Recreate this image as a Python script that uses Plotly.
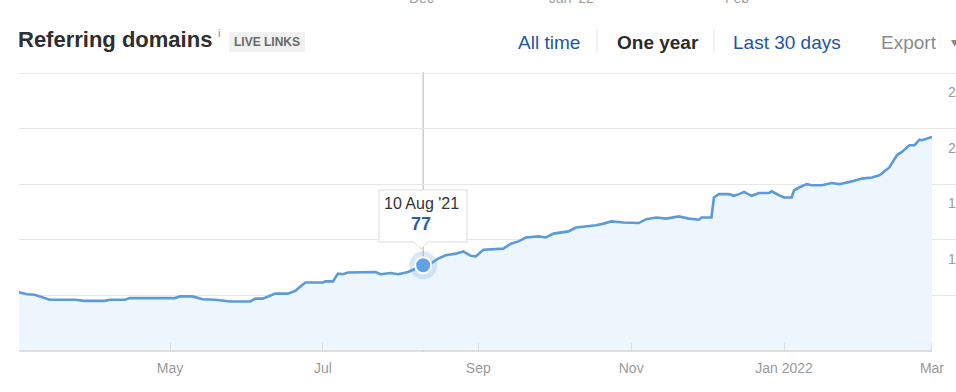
import plotly.graph_objects as go

# ---------------- data ----------------
dates = [
    "2021-03-01", "2021-03-05", "2021-03-08", "2021-03-10", "2021-03-13", "2021-03-14",
    "2021-03-24", "2021-03-28", "2021-04-05", "2021-04-07", "2021-04-13", "2021-04-15",
    "2021-05-03", "2021-05-05", "2021-05-10", "2021-05-14", "2021-05-19", "2021-05-25",
    "2021-06-02", "2021-06-04", "2021-06-07", "2021-06-09", "2021-06-12", "2021-06-17",
    "2021-06-20", "2021-06-24", "2021-07-01", "2021-07-02", "2021-07-05", "2021-07-07",
    "2021-07-09", "2021-07-11", "2021-07-21", "2021-07-22", "2021-07-24", "2021-07-28",
    "2021-07-31", "2021-08-04", "2021-08-06", "2021-08-10", "2021-08-13", "2021-08-16",
    "2021-08-19", "2021-08-23", "2021-08-26", "2021-08-29", "2021-08-31", "2021-09-03",
    "2021-09-11", "2021-09-14", "2021-09-17", "2021-09-20", "2021-09-25", "2021-09-28",
    "2021-10-01", "2021-10-04", "2021-10-07", "2021-10-10", "2021-10-15", "2021-10-18",
    "2021-10-21", "2021-10-24", "2021-10-29", "2021-11-04", "2021-11-07", "2021-11-11",
    "2021-11-15", "2021-11-20", "2021-11-24", "2021-11-28", "2021-11-29", "2021-12-03",
    "2021-12-04", "2021-12-06", "2021-12-10", "2021-12-12", "2021-12-14", "2021-12-16",
    "2021-12-19", "2021-12-22", "2021-12-26", "2021-12-27", "2021-12-30", "2022-01-01",
    "2022-01-04", "2022-01-05", "2022-01-07", "2022-01-10", "2022-01-12", "2022-01-16",
    "2022-01-20", "2022-01-23", "2022-01-28", "2022-02-01", "2022-02-05", "2022-02-08",
    "2022-02-12", "2022-02-15", "2022-02-17", "2022-02-20", "2022-02-22", "2022-02-24",
    "2022-02-25", "2022-02-28", "2022-03-01",
]
domains = [
    53, 51, 50.5, 49, 46.5, 46,
    46, 45, 45, 46, 46, 47.5,
    47.5, 49, 49, 46.5, 46, 44.5,
    44.5, 47, 47, 49, 51.5, 51.5,
    54, 61.5, 61.5, 62.5, 62.5, 69.5,
    69, 70.5, 70.5, 71, 69, 70,
    69, 71, 73, 77, 78.5, 83,
    86, 87.5, 89.5, 85.5, 85, 91,
    92, 96.5, 98.5, 102, 103, 102,
    105.5, 106.5, 107.5, 111, 112, 113,
    114.5, 116.5, 115.5, 115, 118.5, 120,
    119, 121, 119, 118, 120, 120,
    138, 141, 141, 139.5, 141, 143,
    139.5, 142, 142, 143.5, 140, 138,
    138, 144.5, 147, 150, 149, 149,
    151, 150, 152.5, 155, 156, 158,
    165, 176, 179, 185, 185, 190,
    189.5, 192, 192.5,
]

x_tick_vals = ["2021-05-01", "2021-07-01", "2021-09-01", "2021-11-01", "2022-01-01", "2022-03-01"]
x_tick_text = ["May", "Jul", "Sep", "Nov", "Jan 2022", "Mar"]
y_tick_vals = [50, 100, 150, 200, 250]
y_tick_text = ["50", "100", "150", "200", "250"]

hover_date = "2021-08-10"
hover_value = 77
hover_label = "10 Aug '21"

top_labels = ["Dec", "Jan '22", "Feb"]

# ---------------- layout helpers (pixel -> paper) ----------------
W, H = 956, 392
ML, MR, MT, MB = 19, 0, 63, 40
PW, PH = W - ML - MR, H - MT - MB


def px(x):
    return (x - ML) / PW


def py(y):
    return (H - MB - y) / PH


FONT = "Liberation Sans, Arial, Helvetica, sans-serif"
LINE = "#5c9bd8"

fig = go.Figure()
fig.add_trace(go.Scatter(
    x=dates, y=domains, mode="lines",
    line=dict(color=LINE, width=2.6),
    fill="tozeroy", fillcolor="rgba(238,246,253,1)",
    hoverinfo="skip", showlegend=False,
))
# hover point halo + point
fig.add_trace(go.Scatter(
    x=[hover_date], y=[hover_value], mode="markers",
    marker=dict(size=28, color="rgba(92,155,216,0.22)"),
    hoverinfo="skip", showlegend=False, cliponaxis=False,
))
fig.add_trace(go.Scatter(
    x=[hover_date], y=[hover_value], mode="markers",
    marker=dict(size=16, color="#5fa2e6", line=dict(color="white", width=2)),
    hoverinfo="skip", showlegend=False, cliponaxis=False,
))

shapes = []
# crosshair
shapes.append(dict(type="line", xref="x", yref="paper", x0=hover_date, x1=hover_date,
                   y0=0, y1=py(72), line=dict(color="#b4b4b4", width=1), layer="below"))
# baseline up to last data point
shapes.append(dict(type="line", xref="x", yref="y", x0="2021-02-20", x1=dates[-1],
                   y0=0, y1=0, line=dict(color="#d6d6d6", width=1.5), layer="above"))
# tooltip box with pointer
bx0, bx1, by0, by1, cx = 379, 467, 190, 242, 421
path = (f"M {px(bx0)},{py(by0)} L {px(bx1)},{py(by0)} L {px(bx1)},{py(by1)} "
        f"L {px(cx + 7)},{py(by1)} L {px(cx)},{py(by1 + 7)} L {px(cx - 7)},{py(by1)} "
        f"L {px(bx0)},{py(by1)} Z")
shapes.append(dict(type="path", xref="paper", yref="paper", path=path,
                   fillcolor="white", line=dict(color="#dcdcdc", width=1), layer="above"))
# header separators
for sx in (597, 714):
    shapes.append(dict(type="line", xref="paper", yref="paper", x0=px(sx), x1=px(sx),
                       y0=py(30), y1=py(53), line=dict(color="#e6e6e6", width=1)))
# LIVE LINKS badge
shapes.append(dict(type="rect", xref="paper", yref="paper", x0=px(229), x1=px(305),
                   y0=py(32), y1=py(52), fillcolor="#f1f1f1", line=dict(width=0)))

ann = []


def T(text, x, y, size, color, xanchor="left", bold=False):
    ann.append(dict(text=f"<b>{text}</b>" if bold else text, x=px(x), y=py(y),
                    xref="paper", yref="paper", xanchor=xanchor, yanchor="middle",
                    showarrow=False, font=dict(family=FONT, size=size, color=color)))


T("Referring domains", 16, 40, 22, "#2e2e2e", bold=True)
T("i", 216, 33, 11, "#888888")
T("LIVE LINKS", 267, 42.5, 12, "#6a6a6a", xanchor="center", bold=True)
T("All time", 516, 42, 19, "#2255a4")
T("One year", 615, 42, 19, "#2b2b2b", bold=True)
T("Last 30 days", 731, 42, 19, "#2255a4")
T("Export", 879, 42, 19, "#8a8a8a")
T("▾", 949, 42, 14, "#8a8a8a")
for lbl, lx in zip(top_labels, (421, 571, 737)):
    T(lbl, lx, -2, 14, "#a0a0a0", xanchor="center")
# tooltip text
T(hover_label, cx, 203, 16, "#333333", xanchor="center")
T(str(hover_value), cx, 224, 18, "#2a5e9f", xanchor="center", bold=True)

# right-aligned y-axis labels (partly outside the visible page, as in the screenshot)
for v, t in zip(y_tick_vals, y_tick_text):
    ann.append(dict(text=t, x=px(974), y=v, xref="paper", yref="y",
                    xanchor="right", yanchor="middle", yshift=-19, showarrow=False,
                    font=dict(family=FONT, size=14, color="#9a9a9a")))

fig.update_layout(
    width=W, height=H, template="none",
    margin=dict(l=ML, r=MR, t=MT, b=MB, autoexpand=False),
    paper_bgcolor="white", plot_bgcolor="white",
    showlegend=False, shapes=shapes, annotations=ann,
    font=dict(family=FONT),
    xaxis=dict(
        type="date", range=["2021-03-01 18:00", "2022-03-10 14:00"],
        tickvals=x_tick_vals, ticktext=x_tick_text,
        ticks="inside", ticklen=9, tickcolor="#dddddd", tickwidth=1,
        showgrid=False, zeroline=False, showline=False,
        tickfont=dict(family=FONT, size=14, color="#9a9a9a"),
        ticklabelstandoff=6, automargin=False,
    ),
    yaxis=dict(
        range=[-1, 259], tickvals=y_tick_vals, showticklabels=False,
        ticks="", showgrid=True, gridcolor="#e7e7e7", gridwidth=1,
        zeroline=False, showline=False, automargin=False,
    ),
)

fig.write_html("out.html")
